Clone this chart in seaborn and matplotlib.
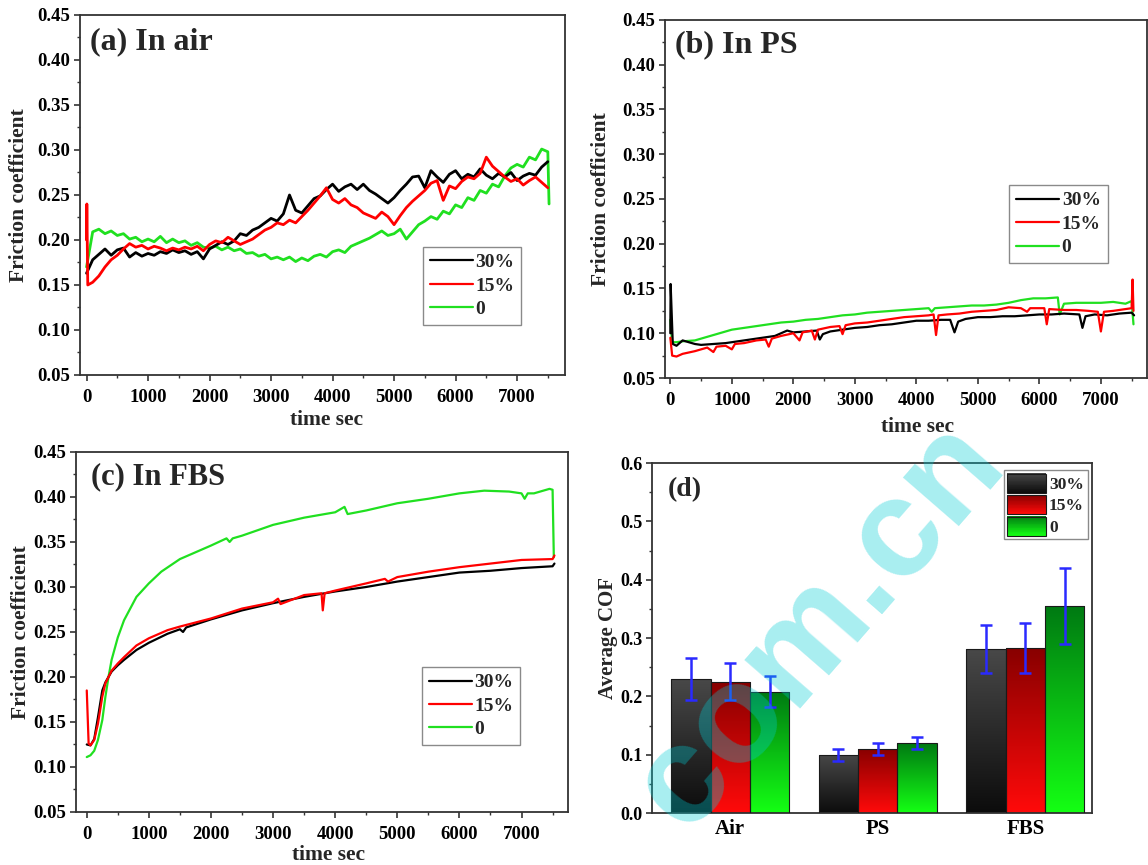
import numpy as np
import pandas as pd
import matplotlib
matplotlib.use("Agg")
import matplotlib.pyplot as plt
import seaborn as sns
from matplotlib.lines import Line2D
from matplotlib.patches import Patch, Rectangle
from matplotlib.legend_handler import HandlerBase
from matplotlib.colors import to_rgb
from matplotlib.ticker import MultipleLocator, FormatStrFormatter

# ---------------------------------------------------------------- data
SAMPLES = ["30%", "15%", "0"]
LINE_COLORS = {"30%": "#000000", "15%": "#ff0000", "0": "#20e020"}

# (a) In air, sampled every 100 s
A_TIME = [0, 100, 200, 300, 400, 500, 600, 700, 800, 900,
          1000, 1100, 1200, 1300, 1400, 1500, 1600, 1700, 1800, 1900,
          2000, 2100, 2200, 2300, 2400, 2500, 2600, 2700, 2800, 2900,
          3000, 3100, 3200, 3300, 3400, 3500, 3600, 3700, 3800, 3900,
          4000, 4100, 4200, 4300, 4400, 4500, 4600, 4700, 4800, 4900,
          5000, 5100, 5200, 5300, 5400, 5500, 5600, 5700, 5800, 5900,
          6000, 6100, 6200, 6300, 6400, 6500, 6600, 6700, 6800, 6900,
          7000, 7100, 7200, 7300, 7400, 7500]
A_30 = [0.163, 0.178, 0.184, 0.190, 0.183, 0.189, 0.191, 0.181, 0.186, 0.182,
        0.185, 0.183, 0.187, 0.185, 0.189, 0.186, 0.188, 0.184, 0.187, 0.179,
        0.190, 0.194, 0.198, 0.195, 0.199, 0.207, 0.205, 0.211, 0.214, 0.219,
        0.224, 0.221, 0.229, 0.250, 0.233, 0.230, 0.238, 0.246, 0.249, 0.256,
        0.262, 0.254, 0.259, 0.262, 0.256, 0.262, 0.255, 0.251, 0.246, 0.241,
        0.247, 0.255, 0.262, 0.270, 0.271, 0.258, 0.277, 0.270, 0.264, 0.273,
        0.277, 0.268, 0.273, 0.270, 0.279, 0.272, 0.268, 0.274, 0.270, 0.275,
        0.266, 0.271, 0.274, 0.272, 0.281, 0.287]
A_15_START_T = [0, 5, 20]
A_15_START = [0.200, 0.240, 0.150]
A_15 = [0.150, 0.153, 0.160, 0.170, 0.178, 0.183, 0.190, 0.196, 0.192, 0.194,
        0.190, 0.193, 0.191, 0.188, 0.191, 0.189, 0.192, 0.190, 0.193, 0.188,
        0.195, 0.199, 0.197, 0.203, 0.199, 0.195, 0.198, 0.201, 0.206, 0.211,
        0.214, 0.219, 0.217, 0.222, 0.219, 0.226, 0.233, 0.241, 0.249, 0.258,
        0.245, 0.241, 0.246, 0.239, 0.236, 0.230, 0.227, 0.224, 0.231, 0.226,
        0.217, 0.227, 0.236, 0.243, 0.249, 0.255, 0.263, 0.266, 0.244, 0.260,
        0.257, 0.265, 0.270, 0.268, 0.274, 0.292, 0.282, 0.276, 0.270, 0.265,
        0.268, 0.261, 0.266, 0.270, 0.264, 0.258]
A_0 = [0.170, 0.209, 0.212, 0.207, 0.210, 0.205, 0.207, 0.201, 0.203, 0.198,
       0.201, 0.198, 0.204, 0.197, 0.201, 0.197, 0.199, 0.194, 0.197, 0.192,
       0.191, 0.193, 0.189, 0.192, 0.188, 0.190, 0.185, 0.186, 0.182, 0.184,
       0.179, 0.181, 0.178, 0.181, 0.176, 0.180, 0.177, 0.182, 0.184, 0.181,
       0.187, 0.189, 0.186, 0.193, 0.196, 0.199, 0.202, 0.206, 0.210, 0.205,
       0.207, 0.212, 0.201, 0.209, 0.217, 0.221, 0.226, 0.223, 0.232, 0.229,
       0.239, 0.236, 0.247, 0.244, 0.255, 0.252, 0.262, 0.259, 0.271, 0.280,
       0.284, 0.281, 0.292, 0.289, 0.301, 0.298]
A_0_END_T = [7520]
A_0_END = [0.240]

# (b) In PS
B_30_T = [0, 5, 40, 100, 200, 300, 400, 500, 700, 900,
          1100, 1300, 1500, 1700, 1900, 2000, 2200, 2380, 2430, 2480,
          2600, 2800, 3000, 3200, 3400, 3600, 3800, 4000, 4200, 4400,
          4550, 4620, 4680, 4800, 5000, 5200, 5400, 5600, 5800, 6000,
          6200, 6400, 6650, 6700, 6750, 6900, 7100, 7300, 7500, 7540]
B_30 = [0.100, 0.155, 0.088, 0.086, 0.092, 0.090, 0.088, 0.087, 0.088, 0.089,
        0.091, 0.093, 0.095, 0.097, 0.103, 0.101, 0.102, 0.103, 0.093, 0.099,
        0.102, 0.104, 0.106, 0.107, 0.109, 0.110, 0.112, 0.114, 0.114, 0.115,
        0.115, 0.101, 0.113, 0.116, 0.118, 0.118, 0.119, 0.119, 0.120, 0.121,
        0.121, 0.122, 0.121, 0.106, 0.119, 0.121, 0.120, 0.122, 0.123, 0.120]
B_15_T = [0, 30, 100, 200, 400, 600, 700, 750, 900, 1000,
          1050, 1200, 1400, 1550, 1600, 1650, 1800, 2000, 2100, 2150,
          2300, 2350, 2400, 2600, 2750, 2800, 2850, 3000, 3200, 3400,
          3600, 3800, 4000, 4200, 4280, 4320, 4360, 4500, 4700, 4900,
          5100, 5300, 5500, 5700, 5800, 5850, 6000, 6080, 6120, 6160,
          6400, 6600, 6800, 6950, 7000, 7050, 7200, 7400, 7500, 7515,
          7530]
B_15 = [0.095, 0.075, 0.074, 0.077, 0.080, 0.084, 0.079, 0.085, 0.086, 0.082,
        0.088, 0.089, 0.092, 0.093, 0.085, 0.094, 0.097, 0.100, 0.092, 0.101,
        0.103, 0.093, 0.104, 0.107, 0.108, 0.099, 0.109, 0.111, 0.112, 0.114,
        0.116, 0.118, 0.119, 0.120, 0.121, 0.098, 0.120, 0.121, 0.122, 0.124,
        0.125, 0.126, 0.129, 0.128, 0.124, 0.128, 0.128, 0.128, 0.110, 0.127,
        0.126, 0.126, 0.125, 0.124, 0.102, 0.124, 0.125, 0.127, 0.128, 0.160,
        0.125]
B_0_T = [0, 30, 100, 200, 400, 600, 800, 1000, 1200, 1400,
         1600, 1800, 2000, 2200, 2400, 2600, 2800, 3000, 3200, 3400,
         3600, 3800, 4000, 4200, 4250, 4300, 4500, 4700, 4900, 5100,
         5300, 5500, 5700, 5900, 6100, 6300, 6330, 6400, 6600, 6800,
         7000, 7200, 7400, 7500, 7530]
B_0 = [0.115, 0.090, 0.090, 0.091, 0.092, 0.096, 0.100, 0.104, 0.106, 0.108,
       0.110, 0.112, 0.113, 0.115, 0.116, 0.118, 0.120, 0.121, 0.123, 0.124,
       0.125, 0.126, 0.127, 0.128, 0.124, 0.128, 0.129, 0.130, 0.131, 0.131,
       0.132, 0.134, 0.137, 0.139, 0.139, 0.140, 0.121, 0.133, 0.134, 0.134,
       0.134, 0.135, 0.133, 0.136, 0.110]

# (c) In FBS
C_30_T = [0, 60, 120, 180, 250, 300, 400, 500, 600, 800,
          1000, 1300, 1500, 1550, 1600, 2000, 2500, 3000, 3500, 4000,
          4500, 5000, 5500, 6000, 6500, 7000, 7500, 7530]
C_30 = [0.125, 0.124, 0.131, 0.155, 0.185, 0.194, 0.206, 0.213, 0.219, 0.230,
        0.238, 0.248, 0.253, 0.250, 0.255, 0.264, 0.274, 0.282, 0.289, 0.295,
        0.300, 0.306, 0.311, 0.316, 0.318, 0.321, 0.323, 0.326]
C_15_T = [0, 30, 60, 120, 180, 250, 300, 400, 500, 600,
          800, 1000, 1300, 1500, 2000, 2500, 3000, 3080, 3120, 3500,
          3780, 3800, 3830, 4000, 4500, 4800, 4850, 5000, 5500, 6000,
          6500, 7000, 7500, 7530]
C_15 = [0.185, 0.126, 0.124, 0.130, 0.148, 0.178, 0.193, 0.207, 0.215, 0.222,
        0.235, 0.243, 0.252, 0.256, 0.265, 0.276, 0.283, 0.287, 0.281, 0.291,
        0.293, 0.274, 0.293, 0.296, 0.304, 0.309, 0.306, 0.311, 0.317, 0.322,
        0.326, 0.330, 0.331, 0.335]
C_0_T = [0, 60, 120, 180, 250, 300, 350, 400, 500, 600,
         800, 1000, 1200, 1500, 2000, 2250, 2300, 2350, 2500, 3000,
         3500, 4000, 4150, 4200, 4500, 5000, 5500, 6000, 6400, 6800,
         7000, 7050, 7100, 7200, 7450, 7500, 7520]
C_0 = [0.111, 0.113, 0.118, 0.130, 0.152, 0.178, 0.200, 0.219, 0.244, 0.263,
       0.289, 0.304, 0.317, 0.331, 0.346, 0.354, 0.350, 0.354, 0.357, 0.369,
       0.377, 0.383, 0.389, 0.381, 0.385, 0.393, 0.398, 0.404, 0.407, 0.406,
       0.404, 0.398, 0.404, 0.404, 0.409, 0.408, 0.333]

# (d) average COF with standard deviation
MEDIA = ["Air", "PS", "FBS"]
AVG_30 = [0.229, 0.100, 0.281]
AVG_15 = [0.225, 0.110, 0.283]
AVG_0 = [0.208, 0.120, 0.355]
SD_30 = [0.036, 0.010, 0.041]
SD_15 = [0.032, 0.010, 0.043]
SD_0 = [0.027, 0.010, 0.065]

# vertical colour ramps for the bars (top -> bottom)
BAR_RAMPS = {"30%": ("#484848", "#0c0c0c"),
             "15%": ("#880000", "#ff0a0a"),
             "0": ("#007a12", "#14ff14")}

# ---------------------------------------------------------------- style
sns.set_theme(style="ticks")
SERIF = ["Liberation Serif", "DejaVu Serif"]
plt.rcParams["font.family"] = SERIF
plt.rcParams.update({
    "font.weight": "bold",
    "axes.labelweight": "bold",
    "axes.linewidth": 1.3,
    "axes.edgecolor": "#333333",
    "xtick.major.width": 1.2, "ytick.major.width": 1.2,
    "xtick.minor.width": 1.0, "ytick.minor.width": 1.0,
    "xtick.major.size": 4.0, "ytick.major.size": 4.0,
    "xtick.minor.size": 2.5, "ytick.minor.size": 2.5,
    "xtick.color": "#333333", "ytick.color": "#333333",
    "xtick.labelcolor": "black", "ytick.labelcolor": "black",
})

fig = plt.figure(figsize=(11.48, 8.65), dpi=100)
fig.patch.set_facecolor("white")


def long_frame(series):
    rows = []
    for label, (t, y) in series.items():
        rows.append(pd.DataFrame({"time": t, "cof": y, "sample": label}))
    return pd.concat(rows, ignore_index=True)


def friction_panel(rect, series, xlim, title, title_xy, title_size,
                   leg_anchor, ylab_x, xlab_xy, lw):
    ax = fig.add_axes(rect)
    df = long_frame(series)
    sns.lineplot(data=df, x="time", y="cof", hue="sample",
                 hue_order=["0", "30%", "15%"], palette=LINE_COLORS,
                 estimator=None, sort=False, linewidth=lw, legend=False, ax=ax)
    ax.set_xlim(*xlim)
    ax.set_ylim(0.05, 0.45)
    ax.set_xticks([0, 1000, 2000, 3000, 4000, 5000, 6000, 7000])
    ax.xaxis.set_minor_locator(MultipleLocator(500))
    ax.set_yticks([0.05, 0.10, 0.15, 0.20, 0.25, 0.30, 0.35, 0.40, 0.45])
    ax.yaxis.set_minor_locator(MultipleLocator(0.025))
    ax.yaxis.set_major_formatter(FormatStrFormatter("%.2f"))
    ax.tick_params(which="both", direction="out", top=False, right=False)
    ax.tick_params(axis="x", which="major", pad=6, labelsize=13.5)
    ax.tick_params(axis="y", which="major", pad=3, labelsize=13.5)
    for lab in ax.get_xticklabels() + ax.get_yticklabels():
        lab.set_fontweight("bold")
    ax.set_xlabel("time sec", fontsize=15.5, fontweight="bold")
    ax.set_ylabel("Friction coefficient", fontsize=15.5, fontweight="bold")
    ax.yaxis.set_label_coords(ylab_x, 0.5)
    ax.xaxis.set_label_coords(*xlab_xy)
    ax.text(title_xy[0], title_xy[1], title, transform=ax.transAxes,
            fontsize=title_size, fontweight="bold", ha="left", va="center")
    handles = [Line2D([], [], color=LINE_COLORS[s], lw=1.6, label=s) for s in SAMPLES]
    leg = ax.legend(handles=handles, loc="upper left", bbox_to_anchor=leg_anchor,
                    borderaxespad=0, frameon=True, fancybox=False,
                    edgecolor="#8a8a8a", framealpha=1, borderpad=0.35,
                    handlelength=2.2, handletextpad=0.15, labelspacing=0.3,
                    prop={"family": SERIF, "weight": "bold", "size": 14})
    leg.get_frame().set_linewidth(1.0)
    return ax


friction_panel([0.0697, 0.5665, 0.4225, 0.4162],
               {"0": (A_TIME + A_0_END_T, A_0 + A_0_END),
                "30%": (A_TIME, A_30),
                "15%": (A_15_START_T + A_TIME[1:], A_15_START + A_15[1:])},
               (-106, 7780), "(a) In air", (0.02, 0.925), 23,
               (0.707, 0.356), -0.105, (0.509, -0.097), 2.0)

friction_panel([0.5793, 0.5630, 0.4199, 0.4139],
               {"0": (B_0_T, B_0), "30%": (B_30_T, B_30), "15%": (B_15_T, B_15)},
               (-86, 7751), "(b) In PS", (0.02, 0.93), 23,
               (0.714, 0.539), -0.112, (0.523, -0.109), 1.6)

friction_panel([0.0660, 0.0613, 0.4286, 0.4162],
               {"0": (C_0_T, C_0), "30%": (C_30_T, C_30), "15%": (C_15_T, C_15)},
               (-177, 7745), "(c) In FBS", (0.03, 0.93), 22,
               (0.704, 0.403), -0.092, (0.514, -0.092), 1.6)

# ---------------------------------------------------------------- (d) bars
axd = fig.add_axes([0.5679, 0.0601, 0.3833, 0.4046])
bar_df = pd.DataFrame({
    "medium": MEDIA * 3,
    "sample": ["30%"] * 3 + ["15%"] * 3 + ["0"] * 3,
    "cof": AVG_30 + AVG_15 + AVG_0,
})
bar_palette = {s: BAR_RAMPS[s][1] for s in SAMPLES}
sns.barplot(data=bar_df, x="medium", y="cof", hue="sample", hue_order=SAMPLES,
            order=MEDIA, palette=bar_palette, errorbar=None, width=0.8,
            saturation=1, legend=False, ax=axd)


def ramp(top, bottom, n=64):
    top, bottom = np.array(to_rgb(top)), np.array(to_rgb(bottom))
    f = np.linspace(0, 1, n)[:, None]
    return (top * (1 - f) + bottom * f)[:, None, :]


SDS = [SD_30, SD_15, SD_0]
bar_containers = list(axd.containers)
for i, cont in enumerate(bar_containers):
    top, bottom = BAR_RAMPS[SAMPLES[i]]
    xs, ys = [], []
    for bar in cont:
        x0, w, h = bar.get_x(), bar.get_width(), bar.get_height()
        im = axd.imshow(ramp(top, bottom), extent=[x0, x0 + w, 0, h],
                        origin="upper", aspect="auto", interpolation="bilinear",
                        zorder=2)
        im.set_clip_path(bar)
        bar.set_facecolor("none")
        bar.set_edgecolor("#1a1a1a")
        bar.set_linewidth(0.8)
        bar.set_zorder(3)
        xs.append(x0 + w / 2)
        ys.append(h)
    axd.errorbar(xs, ys, yerr=SDS[i], fmt="none", ecolor="#2a2aff",
                 elinewidth=1.8, capsize=4, capthick=1.8, zorder=5)

axd.set_xlim(-0.531, 2.452)
axd.set_ylim(0.0, 0.6)
axd.set_yticks([0.0, 0.1, 0.2, 0.3, 0.4, 0.5, 0.6])
axd.yaxis.set_minor_locator(MultipleLocator(0.05))
axd.yaxis.set_major_formatter(FormatStrFormatter("%.1f"))
axd.tick_params(axis="y", which="both", direction="out", right=False, labelsize=13, pad=3)
axd.tick_params(axis="x", which="both", length=0, labelsize=15, pad=4)
for lab in axd.get_xticklabels() + axd.get_yticklabels():
    lab.set_fontweight("bold")
axd.set_xlabel("")
axd.set_ylabel("Average COF", fontsize=15, fontweight="bold")
axd.yaxis.set_label_coords(-0.078, 0.5)
axd.text(0.036, 0.925, "(d)", transform=axd.transAxes, fontsize=20,
         fontweight="bold", ha="left", va="center")


class GradientPatchHandler(HandlerBase):
    def __init__(self, top, bottom, n=24):
        super().__init__()
        self.top = np.array(to_rgb(top))
        self.bottom = np.array(to_rgb(bottom))
        self.n = n

    def create_artists(self, legend, orig_handle, xdescent, ydescent,
                       width, height, fontsize, trans):
        arts = []
        step = height / self.n
        for k in range(self.n):
            f = (k + 0.5) / self.n
            c = self.top * (1 - f) + self.bottom * f
            y = -ydescent + height - (k + 1) * step
            arts.append(Rectangle((-xdescent, y), width, step * 1.08,
                                  facecolor=c, edgecolor="none", transform=trans))
        arts.append(Rectangle((-xdescent, -ydescent), width, height, fill=False,
                              edgecolor="#1a1a1a", lw=0.8, transform=trans))
        return arts


bar_handles = [Patch(label=s) for s in SAMPLES]
handler_map = {h: GradientPatchHandler(*BAR_RAMPS[s]) for h, s in zip(bar_handles, SAMPLES)}
legd = axd.legend(handles=bar_handles, handler_map=handler_map, loc="upper right",
                  bbox_to_anchor=(0.99, 0.98), borderaxespad=0, frameon=True,
                  fancybox=False, edgecolor="#8a8a8a", framealpha=1,
                  borderpad=0.2, handlelength=2.2, handleheight=1.3,
                  handletextpad=0.2, labelspacing=0.12,
                  prop={"family": SERIF, "weight": "bold", "size": 12.6})
legd.get_frame().set_linewidth(1.0)

# site mark across the lower right panel
fig.text(0.714, 0.277, "com.cn", rotation=49, fontsize=101,
         family="Liberation Sans", color="#00cdd5", alpha=0.34,
         ha="center", va="center", rotation_mode="anchor", zorder=10)

fig.savefig("out.png", dpi=100, facecolor="white")
